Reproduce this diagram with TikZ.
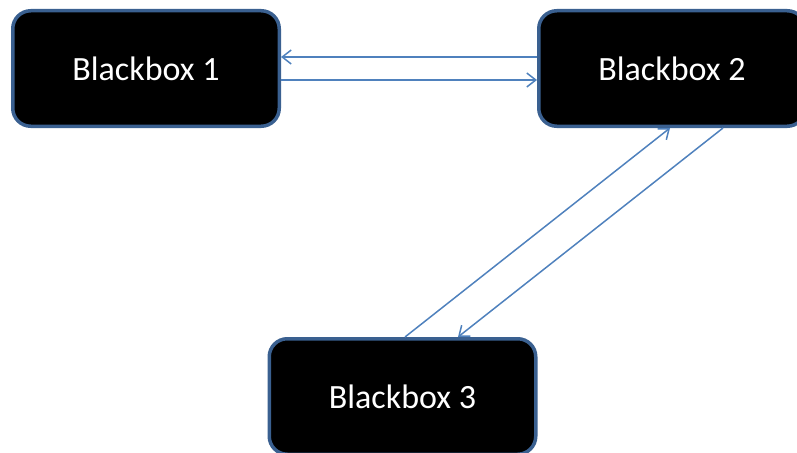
\documentclass[tikz,border=0pt]{standalone}
\usepackage{fontspec}
\newfontfamily\boxfont{Carlito}
\usetikzlibrary{positioning,arrows.meta}

\definecolor{boxline}{HTML}{3A6090}
\definecolor{flowline}{HTML}{4F81BD}

\tikzset{
  blackbox/.style={draw=boxline, line width=3.5pt, fill=black, rounded corners=18pt,
    minimum width=266.5pt, minimum height=115.5pt, text=white,
    font=\boxfont\fontsize{34}{40}\selectfont},
  flow/.style={draw=flowline, line width=1.5pt,
    -{Straight Barb[length=9pt,width=14pt,line width=1.5pt]}}
}

\begin{document}
\begin{tikzpicture}[x=1pt,y=1pt]
  \useasboundingbox (0,0) rectangle (797,-452);

  % Define nodes
  \node[blackbox] at (146,-68.5)             (b1) {Blackbox 1};
  \node[blackbox, right=256pt of b1]          (b2) {Blackbox 2};
  \node[blackbox, below=209pt of b1, xshift=256.5pt] (b3) {Blackbox 3};

  % Connect the nodes
  \draw[flow] ([yshift=11.5pt]b2.west) -- ([yshift=11.5pt]b1.east);
  \draw[flow] ([yshift=-11.5pt]b1.east) -- ([yshift=-11.5pt]b2.west);
  \draw[flow] ([xshift=2.5pt]b3.north) -- ([xshift=-2pt]b2.south);
  \draw[flow] ([xshift=51pt]b2.south) -- ([xshift=55.5pt]b3.north);

\end{tikzpicture}
\end{document}
